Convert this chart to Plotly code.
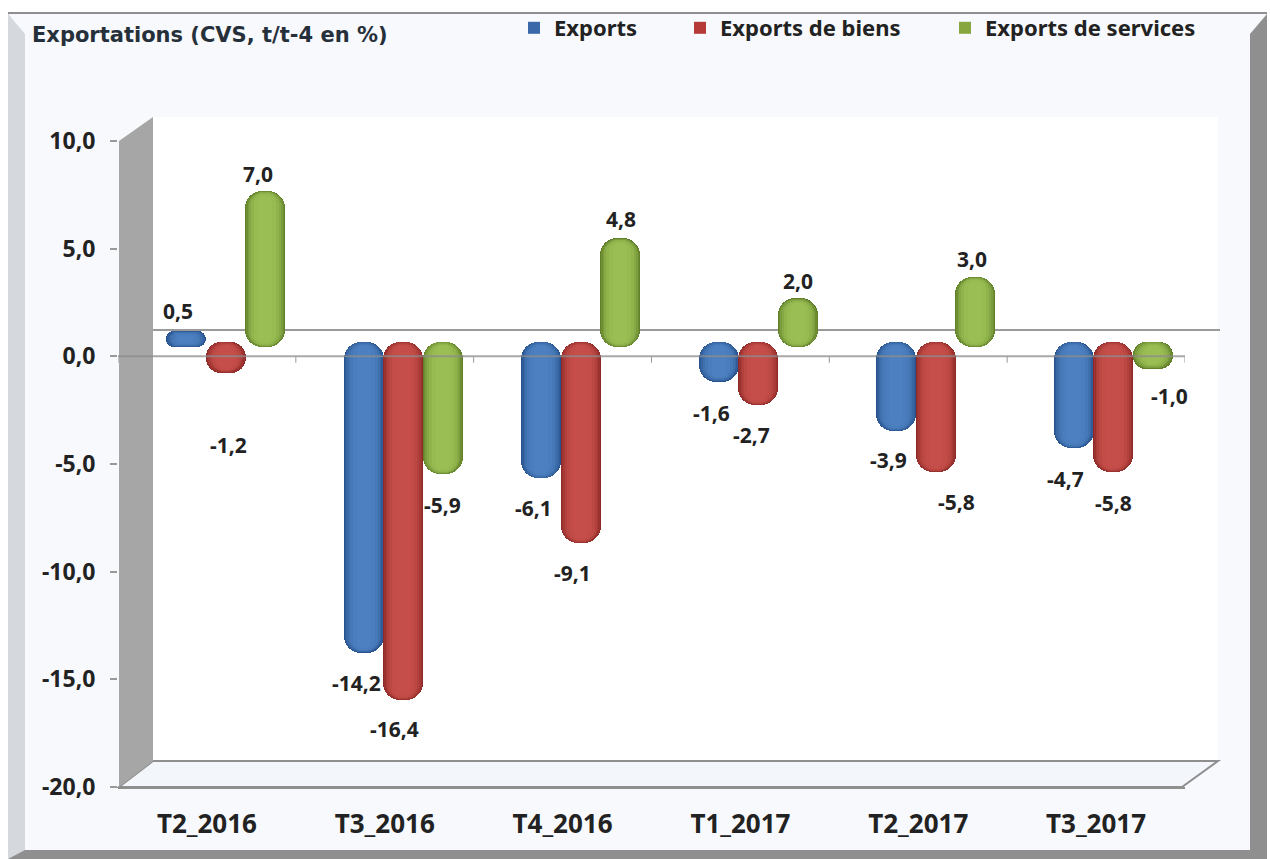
import plotly.graph_objects as go

W, H = 1270, 859

# ---- data ----
categories = ["T2_2016", "T3_2016", "T4_2016", "T1_2017", "T2_2017", "T3_2017"]
exports = [0.5, -14.2, -6.1, -1.6, -3.9, -4.7]
biens = [-1.2, -16.4, -9.1, -2.7, -5.8, -5.8]
services = [7.0, -5.9, 4.8, 2.0, 3.0, -1.0]
series_names = ["Exports", "Exports de biens", "Exports de services"]
chart_title = "Exportations (CVS, t/t-4 en %)"
y_ticks = [10, 5, 0, -5, -10, -15, -20]
y_labels = ["10,0", "5,0", "0,0", "-5,0", "-10,0", "-15,0", "-20,0"]

# ---- styling ----
edge = [(40, 82, 142), (142, 42, 40), (98, 128, 42)]
core = [(76, 128, 192), (198, 78, 74), (154, 190, 84)]
swatch = ["#3a68a8", "#b53a38", "#88a640"]
layer_frac = [1.0, 0.94, 0.88, 0.8, 0.7, 0.55, 0.35]
layer_mix = [0.0, 0.22, 0.45, 0.65, 0.82, 0.94, 1.0]
bar_w = 0.226
bar_step = 0.2225
pad = 0.13
label_off = [
    [(-8, 23), (-7, -33), (-8, -32), (-7, -34), (-8, -32), (-8, -33)],
    [(3, -75), (-9, -32), (-8, -33), (-7, -33), (21, -33), (0, -34)],
    [(-7, 20), (0, -34), (1, 22), (0, 20), (-3, 21), (17, -30)],
]
legend_x = [514, 680, 945]

px = lambda v: v / W
py = lambda v: 1 - v / H


def mix(a, b, t):
    return "rgb(" + ",".join(str(round(x + (y - x) * t)) for x, y in zip(a, b)) + ")"


def poly(points, fill, line=None, width=0, layer="below"):
    d = "M" + " L".join(f"{px(a):.5f},{py(b):.5f}" for a, b in points) + " Z"
    return dict(type="path", xref="paper", yref="paper", path=d, fillcolor=fill,
                line=dict(color=line or fill, width=width), layer=layer)


fig = go.Figure()
# carrier for the front axes
fig.add_trace(go.Scatter(x=list(range(6)), y=[None] * 6, xaxis="x", yaxis="y",
                         showlegend=False, hoverinfo="skip"))

all_vals = [exports, biens, services]
legends = ["legend", "legend2", "legend3"]
for s, vals in enumerate(all_vals):
    pos = [i + (s - 1) * bar_step for i in range(6)]
    # legend entry with a square swatch
    fig.add_trace(go.Bar(x=[None], y=[None], name=series_names[s], legend=legends[s], xaxis="x2", yaxis="y2",
                         marker=dict(color=swatch[s], cornerradius=0, line=dict(width=0))))
    sign = [1 if v > 0 else -1 for v in vals]
    for frac, t in zip(layer_frac, layer_mix):
        w = bar_w * frac
        inset = pad * 0.9 * (1 - frac) * 3
        r = int(0.44 * 40 * frac)
        col = mix(edge[s], core[s], t)
        # a bar with a base has both of its ends rounded
        fig.add_trace(go.Bar(
            x=pos, base=[-g * (pad - inset) for g in sign],
            y=[v + 2 * g * (pad - inset) for v, g in zip(vals, sign)],
            width=w, xaxis="x2", yaxis="y2", showlegend=False, hoverinfo="skip",
            marker=dict(color=col, cornerradius=r, line=dict(width=0))))

anns = [dict(x=px(30), y=py(35), xref="paper", yref="paper", text=f"<b>{chart_title}</b>",
             showarrow=False, xanchor="left", yanchor="middle",
             font=dict(family="DejaVu Sans", size=21, color="#26303a"))]
for s, vals in enumerate(all_vals):
    for i, v in enumerate(vals):
        dx, dy = label_off[s][i]
        anns.append(dict(x=i + (s - 1) * bar_step, y=v, xref="x2", yref="y2",
                         text="<b>" + f"{v:.1f}".replace(".", ",") + "</b>",
                         showarrow=False, xshift=dx, yshift=dy,
                         xanchor="center", yanchor="middle",
                         font=dict(family="Noto Sans", size=21, color="#222222")))

shapes = [
    # frame
    poly([(8, 12), (1267, 12), (1267, 859), (8, 859)], "#8f8f8f"),
    poly([(8, 14), (25, 32), (25, 850), (8, 859)], "#d5d9de"),
    poly([(8, 14), (1267, 14), (1250, 34), (25, 34)], "#f7f9fc"),
    poly([(25, 16), (1250, 16), (1250, 850), (25, 850)], "#f7f9fc"),
    # back wall
    poly([(153, 117), (1218, 117), (1218, 761), (153, 761)], "#ffffff"),
    # floor
    poly([(119, 787), (153, 761), (1218, 761), (1182, 787)], "#f3f6fa", "#8f8f8f", 2),
    # side wall
    poly([(119, 141), (153, 117), (153, 761), (119, 787)], "#a6a6a6"),
    # back zero line
    dict(type="line", xref="paper", yref="paper", x0=px(153), x1=px(1220), y0=py(330), y1=py(330),
         line=dict(color="#9a9a9a", width=2), layer="below"),
    # front zero line
    dict(type="line", xref="x", yref="y", x0=-0.5, x1=5.5, y0=0, y1=0,
         line=dict(color="rgba(140,140,140,0.75)", width=2), layer="above"),
]
for i in range(7):
    shapes.append(dict(type="line", xref="x", yref="y", x0=i - 0.5, x1=i - 0.5, y0=0, y1=-0.3,
                       line=dict(color="#999999", width=1), layer="above"))

legend_common = dict(orientation="h", xanchor="left", yanchor="middle", bgcolor="rgba(0,0,0,0)",
                     xref="container", yref="container",
                     font=dict(family="Noto Sans", size=22, color="#222222", weight="bold"),
                     itemwidth=30)

fig.update_layout(
    width=W, height=H, margin=dict(l=0, r=0, t=0, b=0, autoexpand=False), autosize=False,
    paper_bgcolor="#ffffff", plot_bgcolor="rgba(0,0,0,0)",
    barmode="overlay", bargap=0, showlegend=True,
    xaxis=dict(domain=[px(118), px(1185)], range=[-0.5, 5.5], anchor="y",
               tickvals=list(range(6)), ticktext=categories, showgrid=False, zeroline=False,
               showline=True, linecolor="#8f8f8f", linewidth=2, ticks="", ticklabelstandoff=13,
               tickfont=dict(family="Noto Sans", size=26, color="#222222", weight="bold")),
    yaxis=dict(domain=[py(787), py(141)], range=[-20, 10], anchor="x",
               tickvals=y_ticks, ticktext=y_labels,
               showgrid=False, zeroline=False, showline=False, ticks="outside", ticklen=7,
               tickcolor="#999999", tickwidth=2, ticklabelstandoff=10,
               tickfont=dict(family="Noto Sans", size=23, color="#222222", weight="bold")),
    xaxis2=dict(domain=[px(136.9), px(1201.9)], range=[-0.5, 5.5], anchor="y2", visible=False),
    yaxis2=dict(domain=[py(775), py(129)], range=[-20, 10], anchor="x2", visible=False),
    legend=dict(x=px(legend_x[0]), y=py(28), **legend_common),
    legend2=dict(x=px(legend_x[1]), y=py(28), **legend_common),
    legend3=dict(x=px(legend_x[2]), y=py(28), **legend_common),
    shapes=shapes, annotations=anns,
)

fig.write_html("out.html", config=dict(displayModeBar=False),
               post_script="document.body.style.margin='0';document.body.style.overflow='hidden';")
